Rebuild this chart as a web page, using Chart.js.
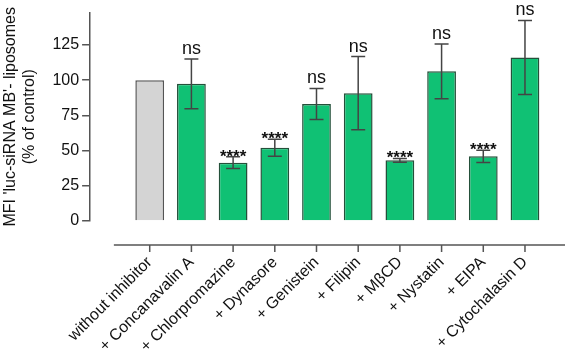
<!DOCTYPE html>
<html>
<head>
<meta charset="utf-8">
<script src="https://cdn.jsdelivr.net/npm/chart.js@4"></script>
<style>
  html, body { margin: 0; padding: 0; background: #fff; }
  #wrap { width: 566px; height: 354px; }
</style>
</head>
<body>
<div id="wrap"><canvas id="inhibitorChart"></canvas></div>
<script>
var categories = ['without inhibitor', '+ Concanavalin A', '+ Chlorpromazine', '+ Dynasore', '+ Genistein',
                  '+ Filipin', '+ M\u03B2CD', '+ Nystatin', '+ EIPA', '+ Cytochalasin D'];
var means = [100, 97.4, 41.4, 52, 83.1, 90.8, 43.1, 106.3, 45.9, 116.1];
var errors = [0, 17.7, 4.2, 6, 11, 26, 1.3, 19.4, 4.3, 26.3];
var significance = ['', 'ns', '****', '****', 'ns', 'ns', '****', 'ns', '****', 'ns'];
var yTicks = [0, 25, 50, 75, 100, 125];

var fillColors = means.map(function(v, i) { return i === 0 ? '#d4d4d4' : '#10c174'; });
var edgeColors = means.map(function(v, i) { return i === 0 ? '#555555' : '#24503a'; });

// error bars, significance marks and the detached x axis line
var extras = {
    id: 'extras',
    afterDatasetsDraw: function(chart) {
        var c = chart.ctx, x = chart.scales.x, y = chart.scales.y;
        c.save();
        c.strokeStyle = '#444';
        c.lineWidth = 1.5;
        means.forEach(function(m, i) {
            if (!errors[i]) return;
            var px = x.getPixelForValue(i);
            var top = y.getPixelForValue(m + errors[i]);
            var bot = y.getPixelForValue(m - errors[i]);
            c.beginPath();
            c.moveTo(px, top); c.lineTo(px, bot);
            c.moveTo(px - 7, top); c.lineTo(px + 7, top);
            c.moveTo(px - 7, bot); c.lineTo(px + 7, bot);
            c.stroke();
        });
        c.fillStyle = '#111';
        c.textAlign = 'center';
        c.textBaseline = 'alphabetic';
        significance.forEach(function(s, i) {
            if (!s) return;
            var px = x.getPixelForValue(i);
            var top = y.getPixelForValue(means[i] + errors[i]);
            if (s === 'ns') {
                c.font = '18px "Liberation Sans", Arial, sans-serif';
                c.fillText(s, px, top - 5);
            } else {
                c.font = 'bold 17px "Liberation Sans", Arial, sans-serif';
                c.fillText(s, px, top + 5);
            }
        });
        // x axis line sitting below the plot
        var ay = chart.chartArea.bottom + 24;
        c.strokeStyle = '#555';
        c.lineWidth = 1.5;
        c.beginPath();
        c.moveTo(x.getPixelForValue(-0.86), ay);
        c.lineTo(x.right, ay);
        categories.forEach(function(lbl, i) {
            var px = x.getPixelForValue(i);
            c.moveTo(px, ay); c.lineTo(px, ay + 7);
        });
        c.stroke();
        c.restore();
    }
};

var ctx = document.getElementById('inhibitorChart').getContext('2d');
var chart = new Chart(ctx, {
    type: 'bar',
    data: {
        datasets: [{
            data: means.map(function(v, i) { return { x: i, y: v }; }),
            backgroundColor: fillColors,
            borderColor: edgeColors,
            borderWidth: 1.5,
            barPercentage: 0.69,
            categoryPercentage: 1
        }]
    },
    options: {
        responsive: true,
        maintainAspectRatio: false,
        animation: false,
        layout: { padding: { top: 10, right: 1, left: 1, bottom: 0 } },
        plugins: {
            legend: { display: false },
            tooltip: { enabled: false }
        },
        scales: {
            x: {
                type: 'linear',
                offset: false,
                min: -1.43,
                max: 9.96,
                grid: { display: false },
                border: { display: false },
                afterBuildTicks: function(scale) {
                    scale.ticks = categories.map(function(c, i) { return { value: i }; });
                },
                afterFit: function(scale) {
                    scale.height = 133;
                    scale.paddingLeft = 0;
                    scale.paddingRight = 0;
                },
                ticks: {
                    autoSkip: false,
                    minRotation: 45,
                    maxRotation: 45,
                    padding: 24,
                    color: '#111',
                    font: { family: '"Liberation Sans", Arial, sans-serif', size: 16 },
                    callback: function(v) { return categories[v]; }
                }
            },
            y: {
                min: 0,
                max: 148,
                afterBuildTicks: function(scale) {
                    scale.ticks = yTicks.map(function(v) { return { value: v }; });
                },
                grid: { display: true, drawOnChartArea: false, tickLength: 8, color: '#555', lineWidth: 1.5 },
                border: { display: true, color: '#555', width: 1.5 },
                ticks: {
                    padding: 3,
                    color: '#111',
                    font: { family: '"Liberation Sans", Arial, sans-serif', size: 16 }
                },
                title: {
                    display: true,
                    text: ["MFI 'luc-siRNA MB'- liposomes", '(% of control)'],
                    color: '#111',
                    padding: { top: 0, bottom: 10 },
                    font: { family: '"Liberation Sans", Arial, sans-serif', size: 16 }
                }
            }
        }
    },
    plugins: [extras]
});
</script>
</body>
</html>
